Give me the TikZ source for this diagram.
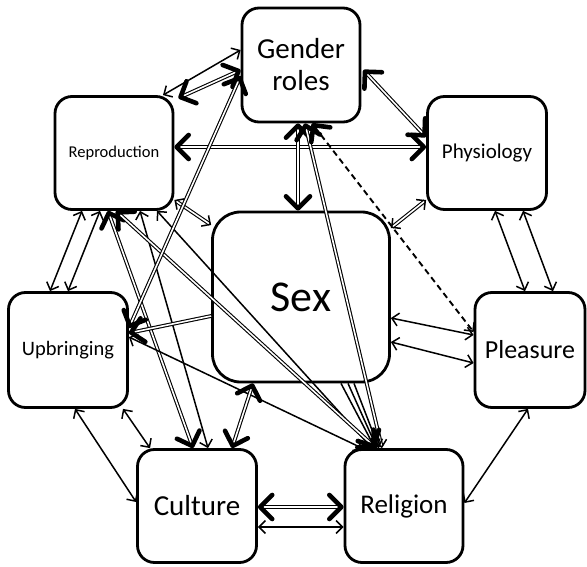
\documentclass[tikz,border=0pt]{standalone}
\usepackage{fontspec}
\setmainfont{Carlito}
\usetikzlibrary{arrows.meta,calc}
\tikzset{
  thn/.tip={Straight Barb[length=6.5pt,width=13pt,line width=1.5pt]},
  thk/.tip={Straight Barb[length=12pt,width=24pt,line width=4.6pt,round]},
  box/.style={draw, line width=2.8pt, rounded corners=17pt, inner sep=0pt, align=center},
  sgl/.style={line width=1.5pt},
  dbl/.style={double, line width=1.1pt, double distance=1.6pt},
  dsh/.style={line width=1.9pt, dash pattern=on 6pt off 4pt},
}
\begin{document}
\begin{tikzpicture}[x=1pt,y=-1pt]
\useasboundingbox (0,0) rectangle (587,567);
% nodes
\node[box, minimum width=118pt, minimum height=114pt, font=\fontsize{29}{32}\selectfont] (G) at (301,65) {Gender\\roles};
\node[box, minimum width=118pt, minimum height=113pt, font=\fontsize{16.5}{18}\selectfont] (R) at (114,153) {Reproduction};
\node[box, minimum width=119pt, minimum height=113pt, font=\fontsize{21}{23}\selectfont] (P) at (487,153) {Physiology};
\node[box, rounded corners=28pt, minimum width=177pt, minimum height=170pt, font=\fontsize{44}{48}\selectfont] (S) at (301,297) {Sex};
\node[box, minimum width=119pt, minimum height=115pt, font=\fontsize{20.5}{22}\selectfont] (U) at (68,350) {Upbringing};
\node[box, minimum width=110pt, minimum height=115pt, font=\fontsize{26}{28}\selectfont] (L) at (530,350) {Pleasure};
\node[box, minimum width=119pt, minimum height=113pt, font=\fontsize{29}{31}\selectfont] (C) at (197,506) {Culture};
\node[box, minimum width=118pt, minimum height=113pt, font=\fontsize{27}{29}\selectfont] (Rl) at (404,506) {Religion};
% connectors
\draw[sgl, thn-thn] ($(G.west)+(0,-15)$) -- ($(R.north)+(49,0)$);
\draw[dbl, thk-thk] ($(G.west)+(0,5)$) -- ($(R.north east)+(4,3)$);
\draw[dbl, thk-thk] ($(R.east)+(0,-6)$) -- ($(P.west)+(0,-6)$);
\draw[dbl, thk-thk] ($(G.south)+(-3,0)$) -- ($(S.north)+(-3,0)$);
\draw[dbl, thk-thn] ($(G.south)+(4,0)$) -- ($(Rl.north)+(-22,0)$);
\draw[dsh, thk-thn] ($(G.south)+(11,0)$) -- ($(L.west)+(0,-18)$);
\draw[dbl, thk-thk] ($(G.east)+(2,5)$) -- ($(P.west)+(0,-16)$);
\draw[dbl, thn-thn] ($(P.west)+(0,47)$) -- ($(S.east)+(0,-69)$);
\draw[sgl, thn-thn] ($(P.south)+(8,0)$) -- ($(L.north)+(-5,0)$);
\draw[sgl, thn-thn] ($(P.south)+(36,0)$) -- ($(L.north)+(23,0)$);
\draw[sgl, thn-thn] ($(S.east)+(0,21)$) -- ($(L.west)+(0,-15)$);
\draw[sgl, thn-thn] ($(S.east)+(0,45)$) -- ($(L.west)+(0,13)$);
\draw[sgl, thn-thn] ($(L.south)+(-2,0)$) -- ($(Rl.east)+(0,-3)$);
\draw[dbl, thk-thk] ($(C.east)+(0,1)$) -- ($(Rl.west)+(0,1)$);
\draw[sgl, thn-thn] ($(C.east)+(0,21)$) -- ($(Rl.west)+(0,21)$);
\draw[sgl, thn-thn] ($(U.south)+(7,0)$) -- ($(C.west)+(0,-4)$);
\draw[sgl, thn-thn] ($(U.south)+(55,0)$) -- ($(C.north)+(-47,0)$);
\draw[sgl, thn-thn] ($(R.south)+(-32,0)$) -- ($(U.north)+(-18,0)$);
\draw[sgl, thn-thn] ($(R.south)+(-14,0)$) -- ($(U.north)+(0,0)$);
\draw[dbl, thk-thk] ($(R.south)+(-6,0)$) -- ($(C.north)+(-4,0)$);
\draw[sgl, thn-thn] ($(R.south)+(26,0)$) -- ($(C.north)+(11,0)$);
\draw[sgl, thn-thn] ($(R.south)+(43,0)$) -- ($(Rl.north)+(-32,0)$);
\draw[dbl, thk-thk] ($(R.south)+(2,0)$) -- ($(Rl.north)+(-28,0)$);
\draw[dbl, thn-thn] ($(R.east)+(0,47)$) -- ($(S.west)+(0,-72)$);
\draw[dbl, thk-thk] ($(G.west)+(0,11)$) -- ($(U.east)+(0,-22)$);
\draw[dbl, thk-] ($(U.east)+(0,-17)$) -- ($(S.west)+(0,19)$);
\draw[sgl, thn-thn] ($(U.east)+(0,-13)$) -- ($(Rl.north)+(-42,0)$);
\draw[dbl, thk-thk] ($(S.south)+(-48,0)$) -- ($(C.north)+(35,0)$);
\draw[sgl, -thk] ($(S.south)+(40,0)$) -- ($(Rl.north)+(-29,0)$);
\draw[sgl, -thn] ($(S.south)+(47,0)$) -- ($(Rl.north)+(-27,0)$);
\draw[sgl, -thn] ($(S.south)+(53,0)$) -- ($(Rl.north)+(-25,0)$);
\end{tikzpicture}
\end{document}
